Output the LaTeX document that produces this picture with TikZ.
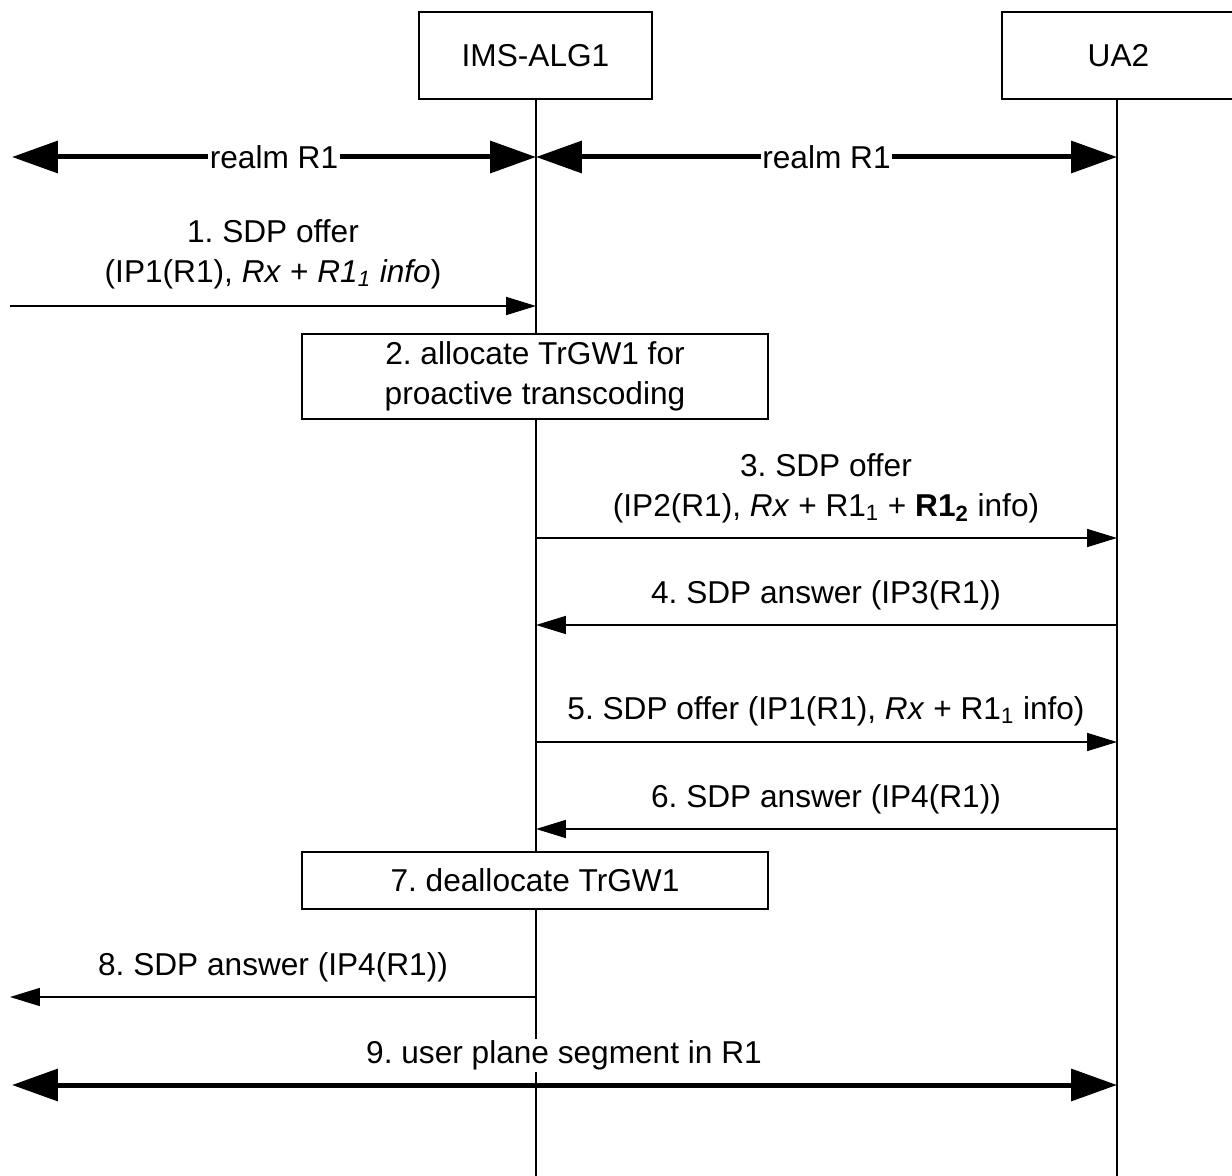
\documentclass[tikz,border=0pt]{standalone}
\usepackage{fontspec}
\setmainfont{Liberation Sans}
\usetikzlibrary{arrows.meta}

\tikzset{
  entity/.style={draw,line width=1.1pt,fill=white,minimum width=4.66cm,minimum height=1.74cm},
  action/.style={draw,line width=1.1pt,fill=white,minimum width=9.32cm,align=center},
  lifeline/.style={line width=0.9pt},
  msg/.style={line width=1pt,-{Triangle[length=0.6cm,width=0.36cm]}},
  realm/.style={line width=0.1cm,{Triangle[length=0.92cm,width=0.63cm]}-{Triangle[length=0.92cm,width=0.63cm]}},
  mlabel/.style={align=center,inner sep=1pt},
  rlabel/.style={fill=white,inner sep=1pt}
}

\begin{document}
\frenchspacing
\begin{tikzpicture}[x=0.02cm,y=-0.02cm,font=\fontsize{18}{22.8}\selectfont]

\useasboundingbox (0,0) rectangle (1232,1176);

% lifelines
\draw[lifeline] (536,99) -- (536,1176);
\draw[lifeline] (1117,99) -- (1117,1176);

\node[entity] (alg) at (535.5,55.5) {IMS-ALG1};
\node[entity] (ua) at (1118.5,55.5) {UA2};

\coordinate (edgeL) at (12,0);
\coordinate (algL) at (536,0);
\coordinate (uaL) at (1117,0);

% realms
\draw[realm] (12,157) -- (536,157) node[rlabel,midway] (realmA) {realm R1};
\draw[realm] (536,157) -- (1117,157) node[rlabel,midway] (realmB) {realm R1};

% 1
\coordinate (m1) at (10,306);
\draw[msg] (m1) -- (m1 -| algL);
\node[mlabel] (t1) at (273,254) {1. SDP offer\\(IP1(R1), \textit{Rx} + \textit{R1\textsubscript{1} info})};

% 2
\node[action,minimum height=1.7cm] (a2) at (535,376.5) {2. allocate TrGW1 for\\proactive transcoding};

% 3
\coordinate (m3) at (536,538);
\draw[msg] (m3) -- (m3 -| uaL);
\node[mlabel] (t3) at (826,488) {3. SDP offer\\(IP2(R1), \textit{Rx} + R1\textsubscript{1} + \textbf{R1\textsubscript{2}} info)};

% 4
\coordinate (m4) at (1117,625);
\draw[msg] (m4) -- (m4 -| algL);
\node[mlabel] (t4) at (826,595) {4. SDP answer (IP3(R1))};

% 5
\coordinate (m5) at (536,742);
\draw[msg] (m5) -- (m5 -| uaL);
\node[mlabel] (t5) at (826,711) {5. SDP offer (IP1(R1), \textit{Rx} + R1\textsubscript{1} info)};

% 6
\coordinate (m6) at (1117,829);
\draw[msg] (m6) -- (m6 -| algL);
\node[mlabel] (t6) at (826,799) {6. SDP answer (IP4(R1))};

% 7
\node[action,minimum height=1.14cm] (a7) at (535,880.5) {7. deallocate TrGW1};

% 8
\coordinate (m8) at (536,997);
\draw[msg] (m8) -- (m8 -| 10,0);
\node[mlabel] (t8) at (273,967) {8. SDP answer (IP4(R1))};

% 9
\node[rlabel] (t9) at (564,1055) {9. user plane segment in R1};
\coordinate (m9) at (12,1085);
\draw[realm] (m9) -- (m9 -| uaL);

\end{tikzpicture}
\end{document}
